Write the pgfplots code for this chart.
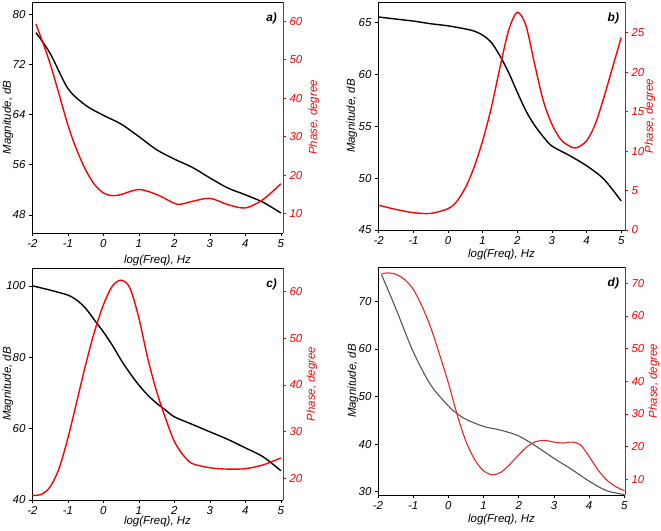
\documentclass[border=0pt]{standalone}
\usepackage{fontspec}
\setmainfont{Liberation Sans}
\usepackage{pgfplots}
\pgfplotsset{compat=1.18}
\definecolor{myred}{RGB}{255,0,0}
\definecolor{dred}{RGB}{238,34,34}
\definecolor{dgray}{RGB}{85,85,85}
\pgfplotsset{
  base/.style={
    scale only axis, anchor=south west,
    label style={font=\fontsize{11.5}{13}\selectfont\itshape},
    tick label style={font=\fontsize{11.5}{13}\selectfont\itshape},
    /pgf/number format/assume math mode=true,
    tick align=outside, major tick length=3bp,
    xtick={-2,...,5},
    axis line style={line width=0.8pt},
    every tick/.style={line width=0.6pt, black},
  },
  magax/.style 2 args={base, axis x line*=box, axis y line*=left, xtick pos=bottom, ytick pos=left,
    xlabel={log(Freq), Hz}, ylabel={Magnitude, dB},
    ylabel style={at={(rel axis cs:0,0.5)}, yshift=#1, anchor=center},
    xlabel style={at={(rel axis cs:0.5,0)}, yshift=#2, anchor=center}},
  phax/.style={base, axis x line=none, axis y line*=right, ytick pos=right,
    y axis line style={myred, line width=0.9pt},
    ytick style={myred}, yticklabel style={myred},
    ylabel={Phase, degree},
    ylabel style={myred, at={(rel axis cs:1,0.5)}, yshift=#1, anchor=center},
    every tick/.style={line width=0.6pt, myred}},
  mag/.style={black, line width=1.4pt, smooth},
  ph/.style={myred, line width=1.4pt, smooth},
}
\tikzset{plab/.style={anchor=north east, font=\fontsize{12}{13}\selectfont\bfseries\itshape}}
\begin{document}
\begin{tikzpicture}[x=1bp,y=1bp]
\path[use as bounding box] (0,0) rectangle (661,531);
% ---------------- a ----------------
\begin{axis}[magax={24bp}{-28bp}, at={(32bp,298bp)}, width=251bp, height=231bp,
  xmin=-2.01, xmax=5.06, ymin=45.1, ymax=82, ytick={48,56,64,72,80}]
\addplot[mag] coordinates {(-1.9,77.1)(-1.5,73.8)(-1,68.2)(-0.5,65.5)(0,63.9)(0.5,62.5)(1,60.5)(1.5,58.4)(2,56.9)(2.5,55.6)(3,53.9)(3.5,52.3)(4,51.2)(4.5,50.0)(5,48.3)};
\node[plab] at (rel axis cs:0.99,0.97) {a)};
\end{axis}
\begin{axis}[phax={-31bp}, at={(32bp,298bp)}, width=251bp, height=231bp,
  xmin=-2.01, xmax=5.06, ymin=5, ymax=65, ytick={10,20,...,60}]
\addplot[ph] coordinates {(-1.9,59.3)(-1.5,49.0)(-1,33.1)(-0.75,26.6)(-0.5,21.4)(-0.25,17.6)(0,15.4)(0.25,14.7)(0.5,15.0)(1,16.3)(1.5,15.0)(2,12.7)(2.2,12.5)(2.5,13.2)(3,14.0)(3.5,12.4)(4,11.5)(4.5,13.7)(5,17.8)};
\end{axis}
% ---------------- b ----------------
\begin{axis}[magax={26bp}{-25bp}, at={(378bp,301bp)}, width=247bp, height=228bp,
  xmin=-2.02, xmax=5.11, ymin=45, ymax=67, ytick={45,50,...,65}]
\addplot[mag] coordinates {(-2,65.55)(-1.5,65.35)(-1,65.16)(-0.5,64.9)(0,64.7)(0.5,64.4)(0.75,64.2)(1,63.8)(1.25,63.1)(1.5,61.8)(1.75,60.2)(2,58.3)(2.25,56.5)(2.5,55.1)(2.75,54.0)(3,53.1)(3.5,52.2)(4,51.2)(4.5,49.9)(5,47.8)};
\node[plab] at (rel axis cs:0.99,0.97) {b)};
\end{axis}
\begin{axis}[phax={-25bp}, at={(378bp,301bp)}, width=247bp, height=228bp,
  xmin=-2.02, xmax=5.11, ymin=0, ymax=28.9, ytick={0,5,...,25}]
\addplot[ph] coordinates {(-2,3.14)(-1.5,2.6)(-1,2.2)(-0.5,2.1)(0,2.7)(0.25,3.6)(0.5,5.35)(0.75,7.9)(1,11.3)(1.25,15.5)(1.5,20.6)(1.75,25.3)(2,27.6)(2.25,25.9)(2.5,21.05)(2.75,16.4)(3,13.4)(3.25,11.5)(3.5,10.65)(3.7,10.4)(4,11.3)(4.25,13.4)(4.5,16.8)(4.75,20.6)(5,24.4)};
\end{axis}
% ---------------- c ----------------
\begin{axis}[magax={24bp}{-22bp}, at={(32bp,31bp)}, width=251bp, height=232bp,
  xmin=-2.01, xmax=5.06, ymin=40, ymax=105, ytick={40,60,80,100}]
\addplot[mag] coordinates {(-2,100)(-1.5,98.8)(-1,97.4)(-0.75,96.0)(-0.5,93.7)(-0.25,90.4)(0,87.1)(0.25,83.4)(0.5,79.2)(0.75,75.5)(1,72.2)(1.25,69.4)(1.5,67.1)(1.75,65.2)(2,63.3)(2.5,61.2)(3,59.1)(3.5,57.0)(4,54.6)(4.5,52.1)(5,48.2)};
\node[plab] at (rel axis cs:0.99,0.97) {c)};
\end{axis}
\begin{axis}[phax={-29bp}, at={(32bp,31bp)}, width=251bp, height=232bp,
  xmin=-2.01, xmax=5.06, ymin=15.4, ymax=65, ytick={20,30,...,60}]
\addplot[ph] coordinates {(-2,16.4)(-1.75,16.6)(-1.5,18.2)(-1.25,22.1)(-1,28.6)(-0.75,36.4)(-0.5,44.3)(-0.25,51.4)(0,57.1)(0.25,61.1)(0.5,62.4)(0.75,60.7)(1,54.3)(1.25,45.7)(1.5,38.6)(1.75,32.9)(2,27.9)(2.25,25.0)(2.5,23.2)(3,22.3)(3.5,22.0)(4,22.1)(4.5,22.9)(5,24.4)};
\end{axis}
% ---------------- d ----------------
\begin{axis}[magax={25bp}{-25bp}, at={(378bp,36bp)}, width=247bp, height=228bp,
  xmin=-2, xmax=5.02, ymin=29.3, ymax=77.2, ytick={30,40,...,70}]
\addplot[dgray, line width=1.1pt, smooth] coordinates {(-1.9,75.6)(-1.5,68.6)(-1,59.4)(-0.5,52.4)(0,48.0)(0.21,46.6)(0.5,45.2)(1,43.7)(1.5,42.9)(2,41.7)(2.5,39.5)(3,37.0)(3.5,34.7)(4,32.2)(4.5,30.2)(5,29.4)};
\node[plab] at (rel axis cs:0.99,0.97) {d)};
\end{axis}
\begin{axis}[phax={-29bp}, at={(378bp,36bp)}, width=247bp, height=228bp,
  xmin=-2, xmax=5.02, ymin=5.2, ymax=75, ytick={10,20,...,70}]
\addplot[dred, line width=1.1pt, smooth] coordinates {(-1.9,72.8)(-1.75,73.2)(-1.5,72.8)(-1.25,71.2)(-1,68.2)(-0.75,63.0)(-0.5,56.4)(-0.25,48.2)(0,39.5)(0.25,29.8)(0.5,21.6)(0.75,16.0)(1,12.6)(1.25,11.4)(1.5,12.2)(1.75,14.6)(2,17.5)(2.25,20.1)(2.5,21.6)(2.75,21.9)(3,21.4)(3.25,21.1)(3.5,21.4)(3.75,20.6)(4,17.0)(4.25,12.9)(4.5,9.8)(4.75,7.8)(5,6.5)};
\end{axis}
\end{tikzpicture}
\end{document}
